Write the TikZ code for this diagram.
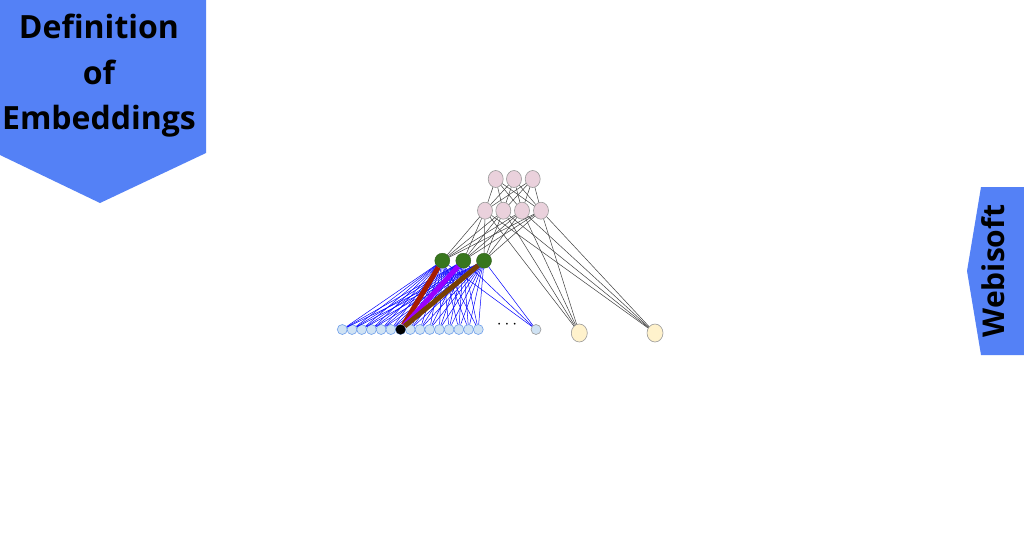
\documentclass[tikz,border=0pt]{standalone}
\usepackage{fontspec}
\newfontfamily\opfont{Open Sans}
\usetikzlibrary{shapes.geometric}

\definecolor{bannerblue}{RGB}{84,129,246}
\definecolor{pinkfill}{RGB}{234,209,220}
\definecolor{greenfill}{RGB}{56,118,29}
\definecolor{yellowfill}{RGB}{255,242,204}
\definecolor{inpfill}{RGB}{207,226,243}
\definecolor{inpline}{RGB}{109,158,235}
\definecolor{berry}{RGB}{166,28,0}
\definecolor{violet}{RGB}{153,0,255}
\definecolor{rust}{RGB}{120,63,4}

\begin{document}
\begin{tikzpicture}[x=1pt, y=-1pt,
    pinkunit/.style = {ellipse, draw = black!40, fill = pinkfill, minimum width = 15pt, minimum height = 17pt, inner sep = 0pt, line width = 0.6pt},
    greenunit/.style = {circle, draw = greenfill!80!black, fill = greenfill, minimum size = 15pt, inner sep = 0pt, line width = 0.4pt},
    yellowunit/.style = {ellipse, draw = black!40, fill = yellowfill, minimum width = 16pt, minimum height = 18pt, inner sep = 0pt, line width = 0.6pt},
    inunit/.style = {circle, draw = inpline, fill = inpfill, minimum size = 10pt, inner sep = 0pt, line width = 0.6pt},
    wire/.style = {color = black!75, line width = 0.5pt},
    bluewire/.style = {color = blue, line width = 0.5pt},
    fatwire/.style = {line width = 5pt}]
    \def\dx{9.71}
    \def\xz{332.6}

    \useasboundingbox[fill = white] (0, 0) rectangle (1024, 543);

    % banner, top left
    \fill[bannerblue] (0, 0) -- (206, 0) -- (206, 153) -- (100, 203) -- (0, 155) -- cycle;
    \node[font = \opfont\bfseries\fontsize{32}{45.5}\selectfont, align = center, inner sep = 0pt] (title) at (99, 76) {Definition\\of\\Embeddings};

    % tab, right
    \fill[bannerblue] (981, 187) -- (1024, 187) -- (1024, 355) -- (981, 355) -- (967, 271) -- cycle;
    \node[font = \opfont\bfseries\fontsize{30}{30}\selectfont, rotate = 90, inner sep = 0pt] (brand) at (993.6, 271) {Webisoft};

    % units
    \node[pinkunit] (t1) at (495.7, 179) {};
    \node[pinkunit] (t2) at (514, 179) {};
    \node[pinkunit] (t3) at (532.7, 179) {};

    \node[pinkunit] (m1) at (485, 210.7) {};
    \node[pinkunit] (m2) at (503.3, 210.7) {};
    \node[pinkunit] (m3) at (522, 210.7) {};
    \node[pinkunit] (m4) at (541, 210.7) {};

    \node[greenunit] (g1) at (442.3, 260.7) {};
    \node[greenunit] (g2) at (463.3, 260.7) {};
    \node[greenunit] (g3) at (484, 260.7) {};

    \node[yellowunit] (y1) at (579.3, 333) {};
    \node[yellowunit] (y2) at (655, 333) {};

    \foreach \k in {1,...,15}
        \node[inunit] (i\k) at ({\xz + \dx*\k}, 329.5) {};
    \node[inunit, draw = black!40] (ilast) at (536, 329.5) {};
    \node[font = \fontsize{18}{18}\selectfont, inner sep = 0pt] (dots) at (507, 324.5) {$\cdots$};

    % connections
    \foreach \a in {t1, t2, t3}
        \foreach \b in {m1, m2, m3, m4}
            \draw[wire] (\a) -- (\b);
    \foreach \a in {m1, m2, m3, m4}
        \foreach \b in {g1, g2, g3, y1, y2}
            \draw[wire] (\a) -- (\b);
    \foreach \a in {g1, g2, g3}
        \foreach \b in {i1, i2, i3, i4, i5, i6, i8, i9, i10, i11, i12, i13, i14, i15, ilast}
            \draw[bluewire] (\a) -- (\b);

    \draw[fatwire, color = berry] (i7) -- (g1);
    \draw[fatwire, color = violet] (i7) -- (g2);
    \draw[fatwire, color = rust] (i7) -- (g3);

    \node[circle, fill = black, minimum size = 10pt, inner sep = 0pt] (i7) at ({\xz + \dx*7}, 329.5) {};

    \end{tikzpicture}
\end{document}
